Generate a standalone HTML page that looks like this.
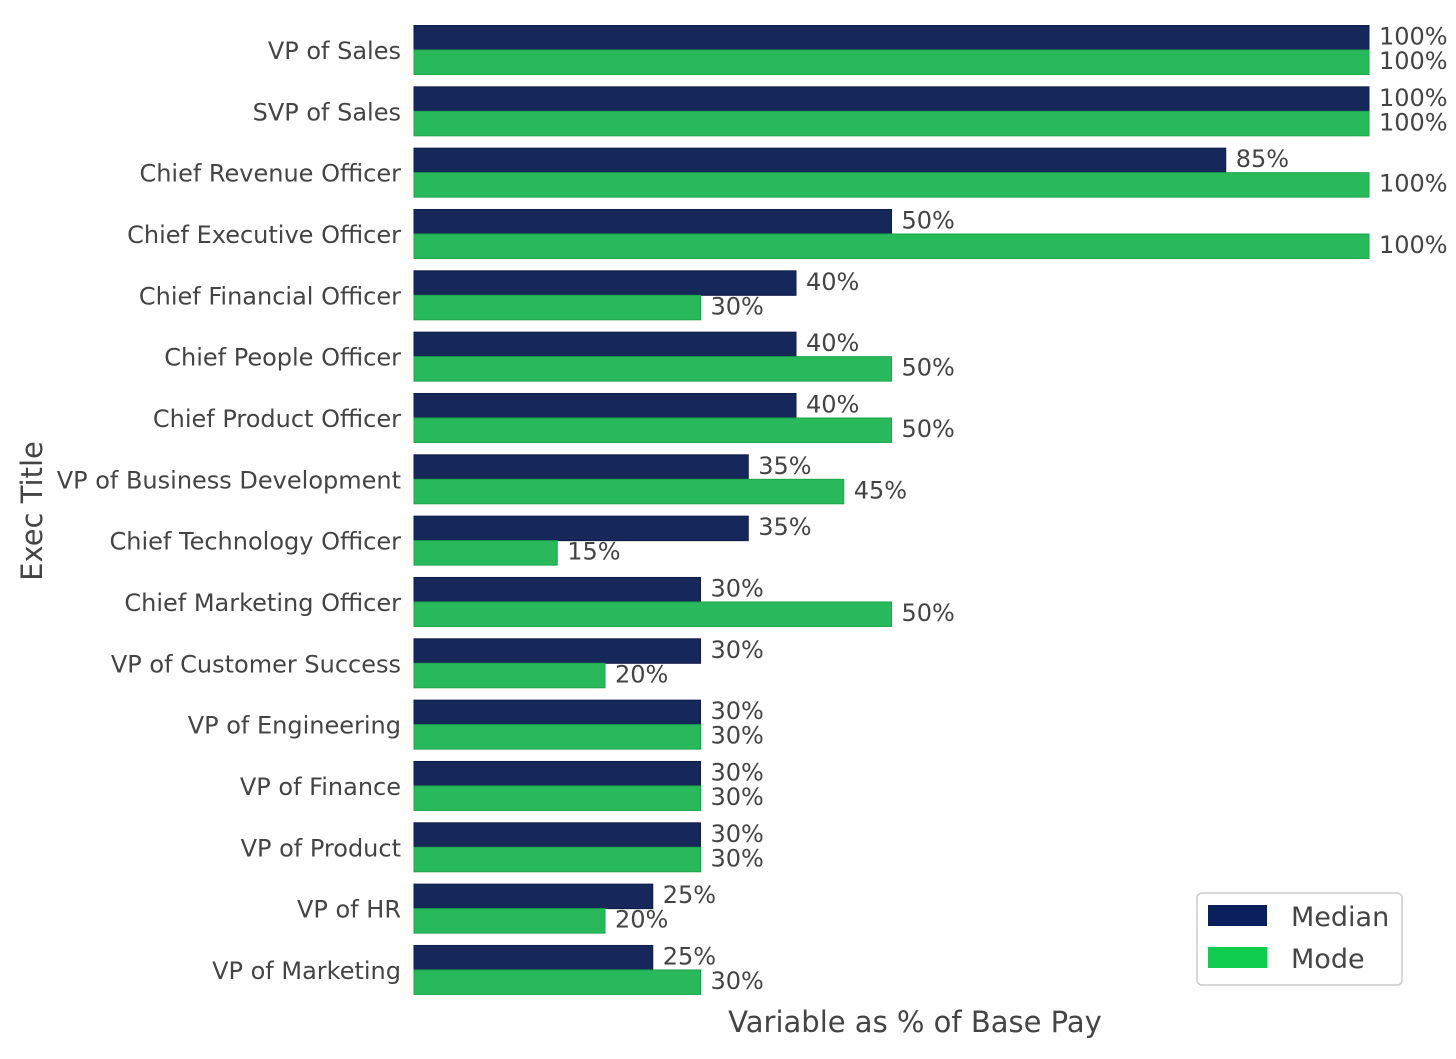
<!DOCTYPE html>
<html><head><meta charset="utf-8"><style>
body{margin:0;background:#fff;font-family:"DejaVu Sans","Liberation Sans",sans-serif}
svg{display:block}
text{fill:#444}
</style></head><body>
<svg id="chart" width="1456" height="1059" xmlns="http://www.w3.org/2000/svg">
<text transform="translate(42,511) rotate(-90)" text-anchor="middle" font-size="29">Exec Title</text>
<text x="915" y="1032" text-anchor="middle" font-size="29">Variable as % of Base Pay</text>
<g id="bars"></g>
<g>
<rect x="1197" y="893" width="205" height="92" rx="5" fill="#fff" stroke="#ccc" stroke-width="1.5"/>
<rect x="1208" y="905" width="59" height="21" fill="#0a1f5c"/>
<text x="1291" y="926" font-size="27">Median</text>
<rect x="1208" y="947" width="59" height="21" fill="#0fcc4f"/>
<text x="1291" y="968" font-size="27">Mode</text>
</g>
</svg>
<script>
const categories=["VP of Sales","SVP of Sales","Chief Revenue Officer","Chief Executive Officer","Chief Financial Officer","Chief People Officer","Chief Product Officer","VP of Business Development","Chief Technology Officer","Chief Marketing Officer","VP of Customer Success","VP of Engineering","VP of Finance","VP of Product","VP of HR","VP of Marketing"];
const medianValues=[100,100,85,50,40,40,40,35,35,30,30,30,30,30,25,25];
const modeValues=[100,100,100,100,30,50,50,45,15,50,20,30,30,30,20,30];
const x0=414,x100=1369;
const xs=v=>x0+(x100-x0)*v/100;
const yc=i=>50+i*61.33;
const g=document.getElementById('bars');
const NS="http://www.w3.org/2000/svg";
function mk(t,a){const e=document.createElementNS(NS,t);for(const k in a)e.setAttribute(k,a[k]);return e;}
categories.forEach((c,i)=>{
  const y=yc(i);
  const lab=mk('text',{x:401,y:y+9,'text-anchor':'end','font-size':24});
  lab.textContent=c;
  
  
  g.appendChild(lab);
  [[medianValues[i],'#16275a','#0f1d4a',y-24.5,'median'],[modeValues[i],'#27b95a','#1fa54c',y,'mode']].forEach(([v,f,s,top,n])=>{
    const r=mk('rect',{x:x0,y:top,width:xs(v)-x0,height:24.5,fill:f,stroke:s,'stroke-width':1});
    
    
    g.appendChild(r);
    const t=mk('text',{x:xs(v)+10,y:top+19,'font-size':24});
    t.textContent=v+'%';
    
    
    g.appendChild(t);
  });
});
</script>
</body></html>
